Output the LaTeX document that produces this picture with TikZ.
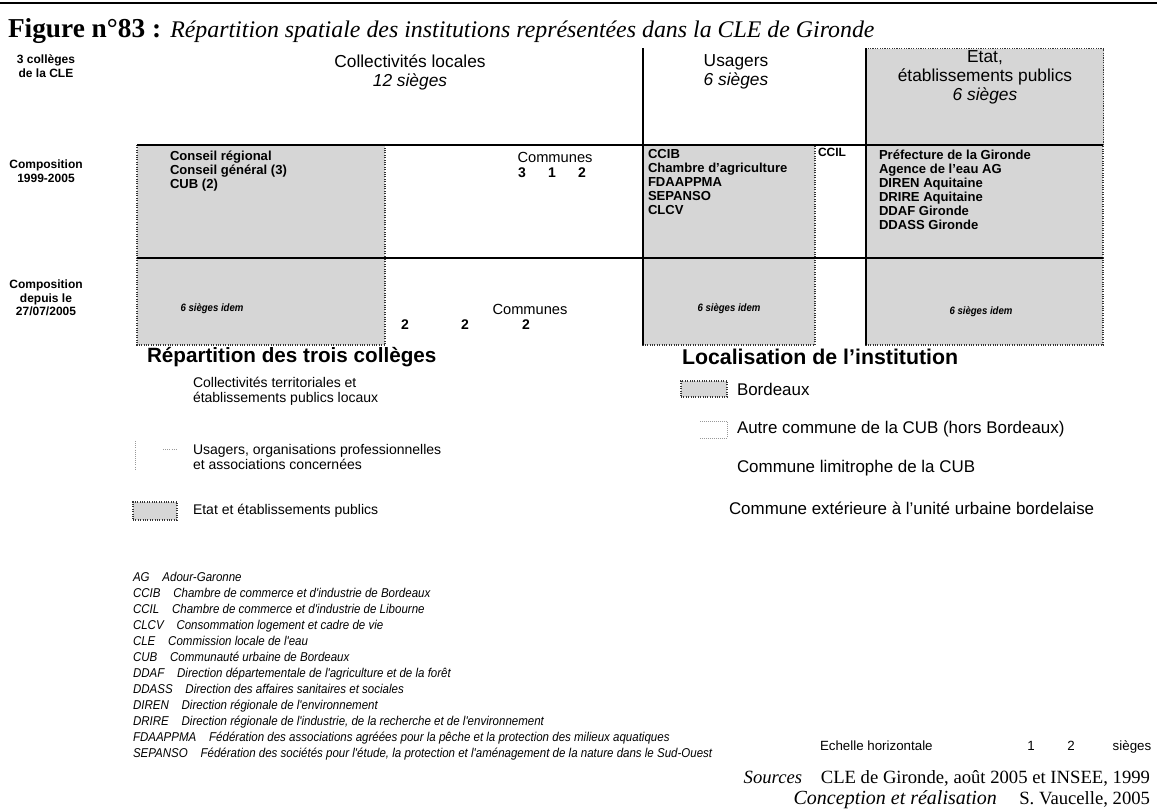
\documentclass[tikz,border=0pt]{standalone}
\usepackage{fontspec}
\setmainfont{Liberation Sans}
\newfontfamily\serifont{Liberation Serif}
\newfontfamily\narrowfont[FakeStretch=0.9]{Liberation Sans}
\newcommand{\fsz}[2][1.2]{\fontsize{#2}{#1\dimexpr #2pt\relax}\selectfont}
\definecolor{boxgray}{gray}{0.84}
\definecolor{fadegray}{gray}{0.6}
\tikzset{
  graybox/.style={fill=boxgray, draw=black!80, densely dotted, line width=0.8pt},
  rule/.style={line width=1.4pt, black},
  txt/.style={inner sep=0pt, outer sep=0pt},
  rowlab/.style={txt, align=center, font=\fsz[1.12]{9}\bfseries},
  head/.style={txt, align=center, font=\fsz[1.1]{13}},
  boxtxt/.style={txt, anchor=north west, align=left, font=\fsz[1.07]{9.8}\bfseries},
  idem/.style={txt, font=\narrowfont\fsz{8}\bfseries\itshape},
  legtitle/.style={txt, anchor=west, font=\fsz{15.5}\bfseries},
  legitemL/.style={txt, anchor=west, align=left, font=\fsz[1.1]{10.5}},
  legitemR/.style={txt, anchor=west, align=left, font=\fsz{12.7}},
  abbr/.style={txt, anchor=base west, font=\narrowfont\fsz{9.6}\itshape},
}
\begin{document}
\begin{tikzpicture}[x=0.75pt, y=-0.75pt]
\useasboundingbox (0,0) rectangle (1157,810);
% top rule
\draw[line width=1.5pt] (0,3) -- (1157,3);
% title
\node[txt, anchor=base west] (title) at (8,37) {\serifont\fsz{20.5}\textbf{Figure n°83 :} \fsz{17.9}\textit{Répartition spatiale des institutions représentées dans la CLE de Gironde}};
% gray boxes
\node[graybox, minimum width=237*0.75pt, minimum height=97*0.75pt, anchor=north west, inner sep=0pt] (etathead) at (866,48) {};
\path[graybox] (137,145) rectangle (385,258);
\path[graybox] (137,258) rectangle (385,345);
\path[graybox] (643,145) rectangle (815,258);
\path[graybox] (643,258) rectangle (815,345);
\path[graybox] (866,145) rectangle (1103,258);
\path[graybox] (866,258) rectangle (1103,345);
% rules
\coordinate (v1t) at (643,48); \coordinate (v1b) at (643,345);
\coordinate (v2t) at (866,48); \coordinate (v2b) at (866,345);
\coordinate (h1l) at (137,145); \coordinate (h1r) at (1103,145);
\coordinate (h2l) at (137,258); \coordinate (h2r) at (1103,258);
\draw[rule] (v1t) -- (v1b);
\draw[rule] (v2t) -- (v2b);
\draw[rule] (h1l) -- (h1r);
\draw[rule] (h2l) -- (h2r);
% headers
\node[rowlab] (r0) at (46,66) {3 collèges\\de la CLE};
\node[rowlab] (r1) at (46,171) {Composition\\1999-2005};
\node[rowlab] (r2) at (46,298) {Composition\\depuis le\\27/07/2005};
\node[head] (hcol) at (410,72) {Collectivités locales\\\textit{12 sièges}};
\node[head] (husa) at (736,72) {Usagers\\\textit{6 sièges}};
\node[head] (heta) at (985,77) {Etat,\\établissements publics\\\textit{6 sièges}};
% row 1
\node[boxtxt] (cr) at (170,151) {Conseil régional\\Conseil général (3)\\CUB (2)};
\node[txt, font=\fsz{11}] (com1) at (555,157) {Communes};
\node[txt, font=\fsz{10.5}\bfseries] (c1a) at (522,173) {3};
\node[txt, font=\fsz{10.5}\bfseries] (c1b) at (552,173) {1};
\node[txt, font=\fsz{10.5}\bfseries] (c1c) at (582,173) {2};
\node[boxtxt] (usa) at (648,149) {CCIB\\Chambre d'agriculture\\FDAAPPMA\\SEPANSO\\CLCV};
\node[boxtxt, font=\fsz{9}\bfseries] (ccil) at (818,148) {CCIL};
\node[boxtxt] (eta) at (879,150) {Préfecture de la Gironde\\Agence de l'eau AG\\DIREN Aquitaine\\DRIRE Aquitaine\\DDAF Gironde\\DDASS Gironde};
% row 2
\node[idem] (i1) at (212,309) {6 sièges idem};
\node[txt, font=\fsz{11}] (com2) at (530,309) {Communes};
\node[txt, font=\fsz{10.5}\bfseries] (c2a) at (405,325) {2};
\node[txt, font=\fsz{10.5}\bfseries] (c2b) at (465,325) {2};
\node[txt, font=\fsz{10.5}\bfseries] (c2c) at (526,325) {2};
\node[idem] (i2) at (729,309) {6 sièges idem};
\node[idem] (i3) at (981,312) {6 sièges idem};
% legend left
\node[legtitle] (lt1) at (147,357) {Répartition des trois collèges};
\node[legitemL] (l1) at (193,391) {Collectivités territoriales et\\établissements publics locaux};
\node[legitemL] (l2) at (193,457) {Usagers, organisations professionnelles\\et associations concernées};
\draw[fadegray, densely dotted, line width=0.6pt] (135,441) -- (135,470);
\draw[fadegray, densely dotted, line width=0.6pt] (163,449) -- (177,449);
\node[graybox, minimum width=44*0.75pt, minimum height=18*0.75pt, inner sep=0pt] (sw3) at (155,511) {};
\node[legitemL] (l3) at (193,511) {Etat et établissements publics};
% legend right
\node[legtitle, font=\fsz{16}\bfseries] (lt2) at (682,357) {Localisation de l'institution};
\node[graybox, minimum width=46*0.75pt, minimum height=16*0.75pt, inner sep=0pt] (sw4) at (704,389) {};
\node[legitemR] (l4) at (737,389) {Bordeaux};
\draw[fadegray, densely dotted, line width=0.5pt] (700,421) -- (727,421) -- (727,438) -- (700,438);
\node[legitemR] (l5) at (737,429) {Autre commune de la CUB (hors Bordeaux)};
\node[legitemR] (l6) at (737,468) {Commune limitrophe de la CUB};
\node[legitemR] (l7) at (729,508) {Commune extérieure à l'unité urbaine bordelaise};
% abbreviations
\node[abbr] (a1) at (133,581) {AG\quad Adour-Garonne};
\node[abbr] (a2) at (133,597) {CCIB\quad Chambre de commerce et d'industrie de Bordeaux};
\node[abbr] (a3) at (133,613) {CCIL\quad Chambre de commerce et d'industrie de Libourne};
\node[abbr] (a4) at (133,629) {CLCV\quad Consommation logement et cadre de vie};
\node[abbr] (a5) at (133,645) {CLE\quad Commission locale de l'eau};
\node[abbr] (a6) at (133,661) {CUB\quad Communauté urbaine de Bordeaux};
\node[abbr] (a7) at (133,677) {DDAF\quad Direction départementale de l'agriculture et de la forêt};
\node[abbr] (a8) at (133,693) {DDASS\quad Direction des affaires sanitaires et sociales};
\node[abbr] (a9) at (133,709) {DIREN\quad Direction régionale de l'environnement};
\node[abbr] (a10) at (133,725) {DRIRE\quad Direction régionale de l'industrie, de la recherche et de l'environnement};
\node[abbr] (a11) at (133,741) {FDAAPPMA\quad Fédération des associations agréées pour la pêche et la protection des milieux aquatiques};
\node[abbr] (a12) at (133,757) {SEPANSO\quad Fédération des sociétés pour l'étude, la protection et l'aménagement de la nature dans le Sud-Ouest};
% scale
\node[txt, anchor=base west, font=\fsz{10}] (ech) at (820,750) {Echelle horizontale};
\node[txt, anchor=base, font=\fsz{10}] (e1) at (1031,750) {1};
\node[txt, anchor=base, font=\fsz{10}] (e2) at (1071,750) {2};
\node[txt, anchor=base, font=\fsz{10}] (e3) at (1132,750) {sièges};
% sources
\node[txt, anchor=base east] (src) at (1150,783) {\serifont\fsz{14}\textit{Sources}\quad CLE de Gironde, août 2005 et INSEE, 1999};
\node[txt, anchor=base east] (con) at (1150,804) {\serifont\fsz{14}\textit{\fsz{15}Conception et réalisation}\hspace{1.2em}S. Vaucelle, 2005};
\end{tikzpicture}
\end{document}
